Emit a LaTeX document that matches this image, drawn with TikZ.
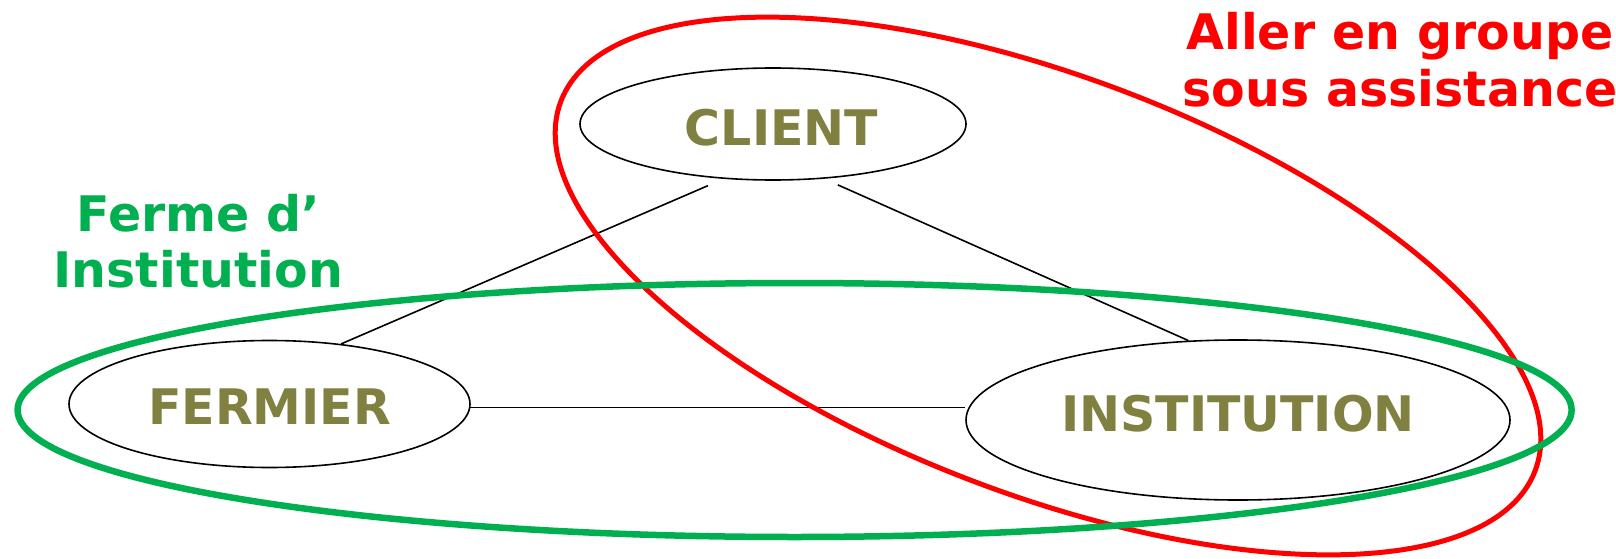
\documentclass[tikz,border=0pt]{standalone}
\usepackage{fontspec}
\setmainfont{DejaVu Sans}
\usetikzlibrary{shapes.geometric}
\definecolor{olivetext}{RGB}{128,128,64}
\definecolor{fermegreen}{RGB}{0,176,80}
\definecolor{groupred}{RGB}{255,0,0}
\begin{document}
\begin{tikzpicture}[x=1pt,y=-1pt,
    actor/.style={ellipse, draw, line width=1.6pt, inner sep=0pt, text=olivetext,
        font=\fontsize{49}{49}\selectfont\bfseries, text height=36pt, text depth=0pt},
    ring/.style={ellipse, inner sep=0pt}]
\useasboundingbox (0,0) rectangle (1616,559);
\node[actor, minimum width=386pt, minimum height=112pt, text height=44pt] (client) at (773,124) {\hspace*{17pt}CLIENT};
\node[actor, minimum width=401pt, minimum height=127pt, text height=41pt] (fermier) at (269.5,404) {FERMIER};
\node[actor, minimum width=544pt, minimum height=160pt, text depth=14pt] (institution) at (1238,420) {INSTITUTION};
\draw[line width=1.6pt, shorten <=17pt] (client.228) -- (fermier.40);
\draw[line width=1.6pt, shorten <=15pt] (client.-47) -- (institution.122);
\draw[line width=1.6pt] (fermier.-1) -- (fermier.-1 -| institution.west);
\node[ring, draw=groupred, line width=5pt, minimum width=1042pt, minimum height=418pt, rotate=-20.76] (groupe) at (1048,286) {};
\node[ring, draw=fermegreen, line width=6.5pt, minimum width=1554pt, minimum height=254pt] (ferme) at (794.6,410) {};
\node[anchor=base, align=center, text=groupred, font=\fontsize{49}{58}\selectfont\bfseries] (allerlabel) at (1400,107) {Aller en groupe\\sous assistance};
\node[anchor=base, align=center, text=fermegreen, font=\fontsize{49}{56}\selectfont\bfseries] (fermelabel) at (198.5,287) {Ferme d’\\Institution};
\end{tikzpicture}
\end{document}
